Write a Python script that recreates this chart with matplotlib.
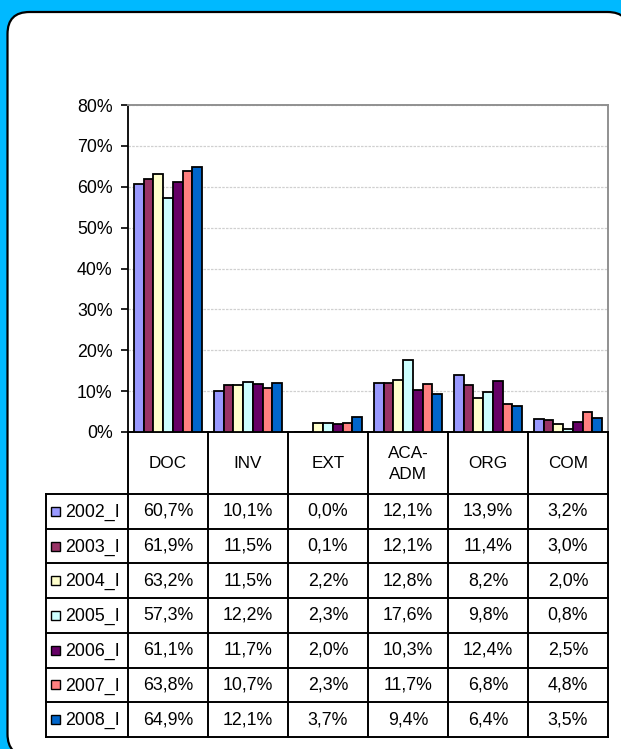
import matplotlib
matplotlib.use("Agg")
import matplotlib.pyplot as plt
from matplotlib.patches import FancyBboxPatch, Rectangle

plt.rcParams['font.family'] = ['Liberation Sans', 'DejaVu Sans']

categories = ["DOC", "INV", "EXT", "ACA-\nADM", "ORG", "COM"]
years = ["2002_I", "2003_I", "2004_I", "2005_I", "2006_I", "2007_I", "2008_I"]
v2002 = [60.7, 10.1, 0.0, 12.1, 13.9, 3.2]
v2003 = [61.9, 11.5, 0.1, 12.1, 11.4, 3.0]
v2004 = [63.2, 11.5, 2.2, 12.8, 8.2, 2.0]
v2005 = [57.3, 12.2, 2.3, 17.6, 9.8, 0.8]
v2006 = [61.1, 11.7, 2.0, 10.3, 12.4, 2.5]
v2007 = [63.8, 10.7, 2.3, 11.7, 6.8, 4.8]
v2008 = [64.9, 12.1, 3.7, 9.4, 6.4, 3.5]
series = [v2002, v2003, v2004, v2005, v2006, v2007, v2008]
colors = ["#9999FF", "#993366", "#FFFFCC", "#CCFFFF", "#660066", "#FF8080", "#0066CC"]
yticks = [0, 10, 20, 30, 40, 50, 60, 70, 80]

FS = 12.8
W, H = 621, 749
fig = plt.figure(figsize=(W / 100, H / 100), dpi=100)
fig.patch.set_facecolor("#00B9FF")

# overlay in pixel coords
ov = fig.add_axes([0, 0, 1, 1], zorder=0)
ov.set_xlim(0, W)
ov.set_ylim(H, 0)
ov.axis("off")
ov.add_patch(FancyBboxPatch((7.5, 12), 622, 744,
                            boxstyle="round,pad=0,rounding_size=22",
                            facecolor="white", edgecolor="black", lw=1.6))

# layout (pixels)
ax_l, ax_r, ax_t, ax_b = 128, 608, 105, 432
tab_l = 46
head_b = 494
tab_b = 737
ncat = len(categories)
colw = (ax_r - ax_l) / ncat
rowh = (tab_b - head_b) / len(years)

ax = fig.add_axes([ax_l / W, 1 - ax_b / H, (ax_r - ax_l) / W, (ax_b - ax_t) / H], zorder=2)
ax.patch.set_alpha(0)
nser = len(series)
group = 0.85
bw = group / nser
for i, (vals, c) in enumerate(zip(series, colors)):
    xs = [k + (i - (nser - 1) / 2) * bw for k in range(ncat)]
    ax.bar(xs, [v / 100 for v in vals], width=bw, color=c, edgecolor="black", lw=1.3, zorder=3)

ax.set_xlim(-0.5, ncat - 0.5)
ax.set_ylim(0, 0.8)
ax.set_yticks([t / 100 for t in yticks])
ax.set_yticklabels([f"{t}%" for t in yticks], fontsize=FS)
ax.set_xticks([])
ax.tick_params(axis="y", direction="out", length=5, width=1.2, pad=6, color="black")
ax.yaxis.grid(True, color="#d0d0d0", lw=0.9, linestyle=(0, (2, 1)), zorder=0)
ax.set_axisbelow(True)
for s in ["top", "right"]:
    ax.spines[s].set_color("#909090")
    ax.spines[s].set_linewidth(1.4)
ax.spines["left"].set_color("black")
ax.spines["left"].set_linewidth(1.3)
ax.spines["bottom"].set_color("black")
ax.spines["bottom"].set_linewidth(1.4)

# table on overlay
tb = fig.add_axes([0, 0, 1, 1], zorder=3)
tb.set_xlim(0, W)
tb.set_ylim(H, 0)
tb.axis("off")
lw = 1.4
for j in range(ncat + 1):
    x = ax_l + j * colw
    tb.plot([x, x], [ax_b, tab_b], color="black", lw=lw, solid_capstyle="projecting")
tb.plot([tab_l, tab_l], [head_b, tab_b], color="black", lw=lw, solid_capstyle="projecting")
for r in range(len(years) + 1):
    y = head_b + r * rowh
    tb.plot([tab_l, ax_r], [y, y], color="black", lw=lw, solid_capstyle="projecting")

for j, cat in enumerate(categories):
    tb.text(ax_l + (j + 0.5) * colw, (ax_b + head_b) / 2 + 1, cat, ha="center", va="center",
            fontsize=FS - 0.5, linespacing=1.45)

for r, (yr, vals, c) in enumerate(zip(years, series, colors)):
    yc = head_b + (r + 0.5) * rowh
    tb.add_patch(Rectangle((50.5, yc - 4.5), 9, 9, facecolor=c, edgecolor="black", lw=1.0))
    tb.text(65, yc + 1, yr, ha="left", va="center", fontsize=FS)
    for j, v in enumerate(vals):
        tb.text(ax_l + (j + 0.5) * colw, yc, f"{v:.1f}%".replace(".", ","),
                ha="center", va="center", fontsize=FS)

fig.savefig("out.png", dpi=100, facecolor=fig.get_facecolor())
